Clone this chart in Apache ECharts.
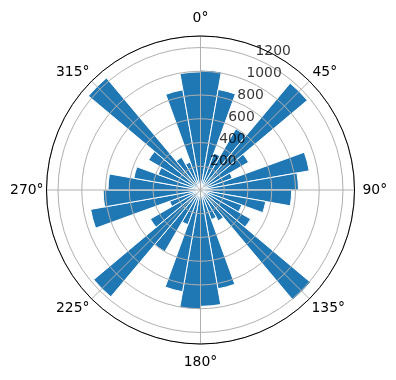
<!DOCTYPE html>
<html>
<head>
<meta charset="utf-8">
<script src="https://cdn.jsdelivr.net/npm/echarts@6/dist/echarts.min.js"></script>
<style>
  html, body { margin: 0; padding: 0; background: #fff; }
  #chart { width: 396px; height: 380px; }
</style>
</head>
<body>
<div id="chart"></div>
<script>
// 10 degree bins, angle measured clockwise from north
var binCenters = [5, 15, 25, 35, 45, 55, 65, 75, 85, 95, 105, 115,
                  125, 135, 145, 155, 165, 175, 185, 195, 205, 215, 225, 235,
                  245, 255, 265, 275, 285, 295, 305, 315, 325, 335, 345, 355];
var counts = [1010, 860, 330, 595, 1175, 468, 285, 930, 825, 768, 558, 370,
              488, 1210, 300, 265, 845, 980, 1005, 870, 310, 600, 1175, 488,
              277, 940, 820, 779, 570, 380, 505, 1232, 318, 250, 857, 995];
var angleTicks = [0, 45, 90, 135, 180, 225, 270, 315];
var radiusTicks = [200, 400, 600, 800, 1000, 1200];
var rMax = 1297;
var rLabelAngle = 22.5;

var font = 'DejaVu Sans';
var gridColor = '#b0b0b0';

// per-label padding so the angle labels sit centred on a common ring
var angleRich = {
    t0: { padding: [0, 0, 8, 0] },
    t45: { padding: [0, 0, 0, 1] },
    t90: { padding: [0, 0, 0, 5] },
    t135: { padding: [0, 0, 0, 0] },
    t180: { padding: [8, 0, 0, 0] },
    t225: { padding: [0, 0, 0, 0] },
    t270: { padding: [0, 0, 0, 0] },
    t315: { padding: [0, 0, 0, 0] }
};
for (var k in angleRich) {
    angleRich[k].fontFamily = font;
    angleRich[k].fontSize = 13.9;
    angleRich[k].color = '#000';
}

var chart = echarts.init(document.getElementById('chart'), null, { renderer: 'canvas' });

chart.setOption({
    animation: false,
    backgroundColor: '#fff',
    polar: {
        center: [200.5, 190],
        radius: 154
    },
    angleAxis: {
        type: 'value',
        min: 0,
        max: 360,
        interval: 45,
        startAngle: 90,
        clockwise: true,
        z: 5,
        axisLine: { show: true, lineStyle: { color: '#000', width: 1 } },
        axisTick: { show: false },
        axisLabel: {
            show: true,
            margin: 3,
            formatter: function (v) {
                return angleTicks.indexOf(v) >= 0 ? '{t' + v + '|' + v + '°}' : '';
            },
            rich: angleRich
        },
        splitLine: { show: true, lineStyle: { color: gridColor, width: 1 } }
    },
    radiusAxis: {
        type: 'value',
        min: 0,
        max: rMax,
        interval: 200,
        z: 5,
        axisLine: { show: false },
        axisTick: { show: false },
        axisLabel: { show: false },
        splitLine: { show: true, lineStyle: { color: gridColor, width: 1 } }
    },
    series: [{
        type: 'bar',
        coordinateSystem: 'polar',
        barWidth: '100%',
        z: 2,
        itemStyle: { color: '#1f77b4', borderColor: '#fff', borderWidth: 1 },
        data: counts.map(function (c, i) { return [c, binCenters[i]]; })
    }, {
        // radial tick labels, placed along the 22.5 degree ray
        type: 'scatter',
        coordinateSystem: 'polar',
        symbolSize: 1,
        z: 10,
        silent: true,
        itemStyle: { color: 'rgba(0,0,0,0)' },
        label: {
            show: true,
            position: [1, 1],
            align: 'left',
            verticalAlign: 'bottom',
            fontFamily: font,
            fontSize: 13.9,
            color: '#000',
            formatter: function (p) { return String(p.value[0]); }
        },
        data: radiusTicks.map(function (r) { return [r, rLabelAngle]; })
    }]
});
</script>
</body>
</html>
